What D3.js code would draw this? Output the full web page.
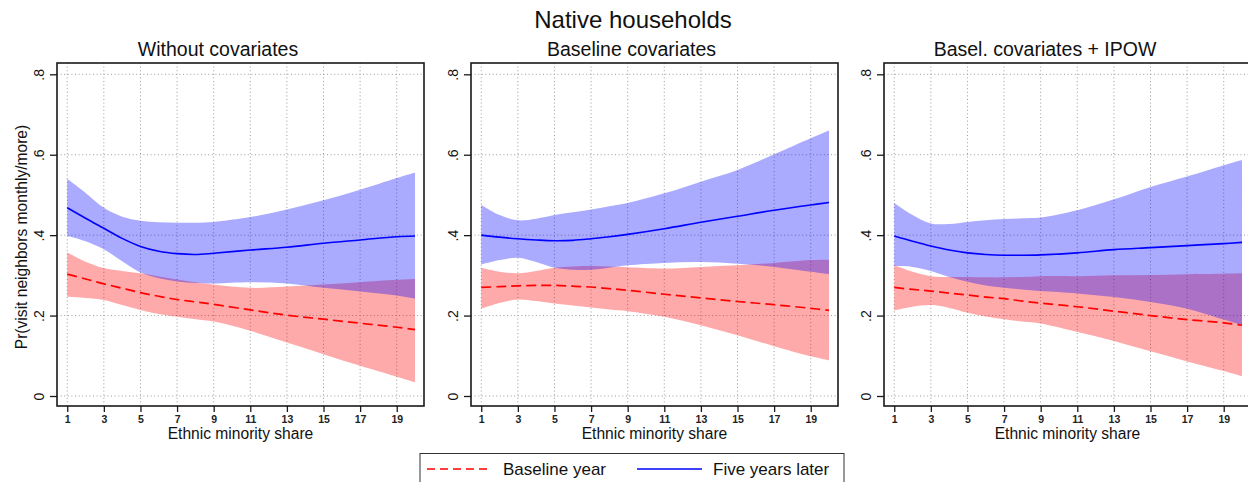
<!DOCTYPE html>
<html>
<head>
<meta charset="utf-8">
<script src="https://cdn.jsdelivr.net/npm/d3@7"></script>
<style>
  html, body { margin: 0; padding: 0; background: #fff; }
  svg { display: block; font-family: "Liberation Sans", Arial, sans-serif; }
</style>
</head>
<body>
<svg id="chart" width="1248" height="482"></svg>
<script>
// Ethnic minority share values at which the predictions are drawn
const shareValues = [1, 2, 3, 4, 5, 6, 7, 8, 9, 11, 13, 15, 17, 19, 20];

// Panel 1: without covariates
const noCovBaseFit   = [0.303, 0.291, 0.279, 0.268, 0.257, 0.248, 0.240, 0.234, 0.228, 0.214, 0.201, 0.191, 0.181, 0.171, 0.165];
const noCovBaseHi    = [0.357, 0.334, 0.318, 0.311, 0.305, 0.297, 0.290, 0.283, 0.277, 0.269, 0.272, 0.277, 0.283, 0.289, 0.291];
const noCovBaseLo    = [0.247, 0.244, 0.239, 0.226, 0.214, 0.204, 0.197, 0.191, 0.185, 0.162, 0.133, 0.104, 0.075, 0.048, 0.034];
const noCovLaterFit  = [0.468, 0.442, 0.417, 0.392, 0.372, 0.360, 0.354, 0.352, 0.355, 0.363, 0.370, 0.380, 0.388, 0.396, 0.398];
const noCovLaterHi   = [0.540, 0.505, 0.468, 0.446, 0.436, 0.432, 0.431, 0.431, 0.433, 0.445, 0.464, 0.487, 0.513, 0.542, 0.556];
const noCovLaterLo   = [0.398, 0.385, 0.365, 0.335, 0.307, 0.293, 0.285, 0.281, 0.280, 0.283, 0.280, 0.269, 0.260, 0.250, 0.242];

// Panel 2: baseline covariates
const covBaseFit     = [0.270, 0.272, 0.274, 0.275, 0.275, 0.273, 0.271, 0.267, 0.263, 0.253, 0.244, 0.235, 0.227, 0.218, 0.213];
const covBaseHi      = [0.319, 0.309, 0.305, 0.311, 0.319, 0.322, 0.323, 0.322, 0.320, 0.317, 0.321, 0.325, 0.331, 0.338, 0.339];
const covBaseLo      = [0.217, 0.231, 0.240, 0.236, 0.230, 0.225, 0.220, 0.215, 0.211, 0.197, 0.176, 0.151, 0.124, 0.099, 0.089];
const covLaterFit    = [0.400, 0.395, 0.391, 0.388, 0.386, 0.387, 0.391, 0.396, 0.402, 0.416, 0.432, 0.447, 0.462, 0.475, 0.481];
const covLaterHi     = [0.475, 0.450, 0.437, 0.441, 0.450, 0.457, 0.464, 0.472, 0.480, 0.504, 0.533, 0.562, 0.601, 0.641, 0.660];
const covLaterLo     = [0.327, 0.338, 0.344, 0.333, 0.319, 0.314, 0.314, 0.319, 0.325, 0.331, 0.333, 0.329, 0.321, 0.309, 0.303];

// Panel 3: baseline covariates + IPOW
const ipowBaseFit    = [0.270, 0.265, 0.261, 0.256, 0.251, 0.246, 0.242, 0.236, 0.231, 0.222, 0.211, 0.200, 0.190, 0.182, 0.176];
const ipowBaseHi     = [0.325, 0.309, 0.298, 0.296, 0.296, 0.295, 0.295, 0.296, 0.298, 0.298, 0.300, 0.301, 0.303, 0.304, 0.305];
const ipowBaseLo     = [0.213, 0.222, 0.226, 0.219, 0.207, 0.198, 0.191, 0.185, 0.180, 0.159, 0.137, 0.111, 0.086, 0.062, 0.049];
const ipowLaterFit   = [0.398, 0.385, 0.373, 0.363, 0.356, 0.352, 0.350, 0.350, 0.351, 0.356, 0.364, 0.369, 0.374, 0.379, 0.382];
const ipowLaterHi    = [0.480, 0.450, 0.429, 0.428, 0.433, 0.437, 0.440, 0.442, 0.444, 0.462, 0.489, 0.520, 0.546, 0.574, 0.587];
const ipowLaterLo    = [0.323, 0.321, 0.311, 0.296, 0.284, 0.275, 0.269, 0.265, 0.261, 0.255, 0.246, 0.234, 0.217, 0.190, 0.176];

const panelTitles = ["Without covariates", "Baseline covariates", "Basel. covariates + IPOW"];
const xTickValues = [1, 3, 5, 7, 9, 11, 13, 15, 17, 19];
const yTickValues = [0, 0.2, 0.4, 0.6, 0.8];
const yTickLabels = ["0", ".2", ".4", ".6", ".8"];
const legendLabels = ["Baseline year", "Five years later"];
const mainTitle = "Native households";
const xAxisTitle = "Ethnic minority share";
const yAxisTitle = "Pr(visit neighbors monthly/more)";

const panels = [
  { baseFit: noCovBaseFit, baseHi: noCovBaseHi, baseLo: noCovBaseLo, laterFit: noCovLaterFit, laterHi: noCovLaterHi, laterLo: noCovLaterLo },
  { baseFit: covBaseFit, baseHi: covBaseHi, baseLo: covBaseLo, laterFit: covLaterFit, laterHi: covLaterHi, laterLo: covLaterLo },
  { baseFit: ipowBaseFit, baseHi: ipowBaseHi, baseLo: ipowBaseLo, laterFit: ipowLaterFit, laterHi: ipowLaterHi, laterLo: ipowLaterLo }
];

// Layout
const frames = [ { left: 57, right: 424 }, { left: 471, right: 838 }, { left: 884, right: 1251 } ];
const titleCenters = [218, 631.5, 1045];
const plotTop = 63, plotBottom = 406;

const svg = d3.select("#chart");

const y = d3.scaleLinear().domain([0, 0.8]).range([396, 74.3]);

svg.append("text")
  .attr("x", 633).attr("y", 28)
  .attr("text-anchor", "middle")
  .attr("font-size", 24)
  .attr("fill", "#111")
  .text(mainTitle);

panels.forEach((p, i) => {
  const fr = frames[i];
  const x = d3.scaleLinear().domain([0.44, 20.49]).range([fr.left, fr.right]);
  const g = svg.append("g");

  // Panel title
  g.append("text")
    .attr("x", titleCenters[i]).attr("y", 56)
    .attr("text-anchor", "middle")
    .attr("font-size", 19.5)
    .attr("fill", "#111")
    .text(panelTitles[i]);

  // Dotted grid
  const grid = g.append("g").attr("stroke", "#9a9a9a").attr("stroke-width", 1)
    .attr("stroke-dasharray", "1,2.6").attr("fill", "none");
  xTickValues.forEach(v => {
    grid.append("line").attr("x1", x(v)).attr("x2", x(v))
      .attr("y1", plotTop).attr("y2", plotBottom);
  });
  yTickValues.forEach(v => {
    grid.append("line").attr("x1", fr.left).attr("x2", fr.right)
      .attr("y1", y(v)).attr("y2", y(v));
  });

  // Confidence bands
  const rows = shareValues.map((s, k) => ({
    s, bf: p.baseFit[k], bh: p.baseHi[k], bl: p.baseLo[k],
    lf: p.laterFit[k], lh: p.laterHi[k], ll: p.laterLo[k]
  }));
  const curve = d3.curveCatmullRom.alpha(0.5);
  const bandBase = d3.area().x(d => x(d.s)).y0(d => y(d.bl)).y1(d => y(d.bh)).curve(curve);
  const bandLater = d3.area().x(d => x(d.s)).y0(d => y(d.ll)).y1(d => y(d.lh)).curve(curve);
  g.append("path").attr("d", bandBase(rows)).attr("fill", "rgb(255,0,0)").attr("fill-opacity", 1 / 3);
  g.append("path").attr("d", bandLater(rows)).attr("fill", "rgb(0,0,255)").attr("fill-opacity", 1 / 3);

  // Predicted lines
  const lineBase = d3.line().x(d => x(d.s)).y(d => y(d.bf)).curve(curve);
  const lineLater = d3.line().x(d => x(d.s)).y(d => y(d.lf)).curve(curve);
  g.append("path").attr("d", lineBase(rows)).attr("fill", "none")
    .attr("stroke", "#ff0000").attr("stroke-width", 1.7).attr("stroke-dasharray", "10,5");
  g.append("path").attr("d", lineLater(rows)).attr("fill", "none")
    .attr("stroke", "#0000ff").attr("stroke-width", 1.6);

  // Plot frame
  g.append("rect")
    .attr("x", fr.left).attr("y", plotTop)
    .attr("width", fr.right - fr.left).attr("height", plotBottom - plotTop)
    .attr("fill", "none").attr("stroke", "#1a1a1a").attr("stroke-width", 1.6);

  // Y axis
  const yAxis = d3.axisLeft(y).tickValues(yTickValues)
    .tickFormat((d, k) => yTickLabels[k]).tickSize(7).tickPadding(6);
  const ya = g.append("g").attr("transform", `translate(${fr.left},0)`).call(yAxis);
  ya.select(".domain").remove();
  ya.selectAll(".tick line").attr("stroke", "#1a1a1a").attr("stroke-width", 1.3);
  ya.selectAll(".tick text")
    .attr("font-size", 14).attr("fill", "#111")
    .attr("font-family", "Liberation Sans, Arial, sans-serif")
    .attr("text-anchor", "middle")
    .attr("dy", null)
    .attr("x", null)
    .attr("transform", "translate(-13,0) rotate(-90)")
    .attr("y", 0);

  // X axis
  const xAxis = d3.axisBottom(x).tickValues(xTickValues).tickSize(6).tickPadding(4);
  const xa = g.append("g").attr("transform", `translate(0,${plotBottom})`).call(xAxis);
  xa.select(".domain").remove();
  xa.selectAll(".tick line").attr("stroke", "#1a1a1a").attr("stroke-width", 1.3);
  xa.selectAll(".tick text")
    .attr("font-size", 10.5).attr("font-weight", "bold").attr("fill", "#222")
    .attr("font-family", "Liberation Sans, Arial, sans-serif");

  g.append("text")
    .attr("x", (fr.left + fr.right) / 2).attr("y", 438.5)
    .attr("text-anchor", "middle")
    .attr("font-size", 15.6).attr("fill", "#111")
    .text(xAxisTitle);
});

// Y axis title on the first panel
svg.append("text")
  .attr("transform", "translate(27,237) rotate(-90)")
  .attr("text-anchor", "middle")
  .attr("font-size", 15.6).attr("fill", "#111")
  .text(yAxisTitle);

// Legend
const legend = svg.append("g");
legend.append("rect")
  .attr("x", 420).attr("y", 453.5).attr("width", 424).attr("height", 40)
  .attr("fill", "#fff").attr("stroke", "#333").attr("stroke-width", 1);
legend.append("line")
  .attr("x1", 427).attr("x2", 492).attr("y1", 469).attr("y2", 469)
  .attr("stroke", "#ff0000").attr("stroke-width", 1.7).attr("stroke-dasharray", "8,5");
legend.append("text").attr("x", 503).attr("y", 475)
  .attr("font-size", 17).attr("fill", "#111").text(legendLabels[0]);
legend.append("line")
  .attr("x1", 637).attr("x2", 702).attr("y1", 469).attr("y2", 469)
  .attr("stroke", "#0000ff").attr("stroke-width", 1.6);
legend.append("text").attr("x", 713).attr("y", 475)
  .attr("font-size", 17).attr("fill", "#111").text(legendLabels[1]);
</script>
</body>
</html>
